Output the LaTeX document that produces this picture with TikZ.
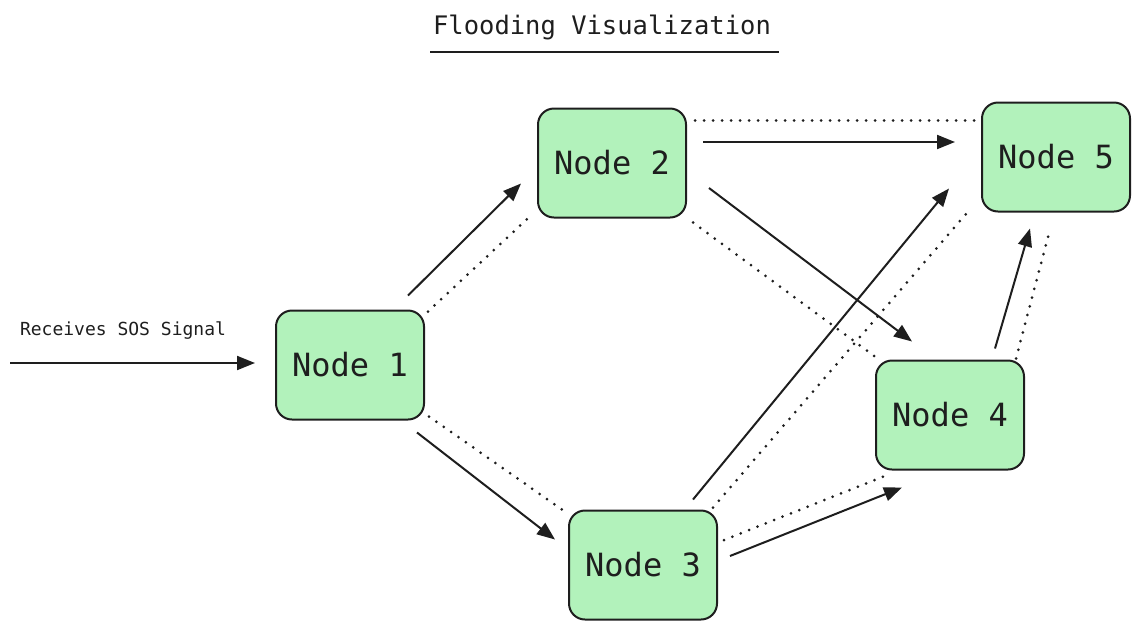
\documentclass[tikz,border=0pt]{standalone}
\usepackage{fontspec}
\setmonofont{DejaVu Sans Mono}
\usepackage{tikz}
\usetikzlibrary{positioning,calc,arrows.meta}
\definecolor{nodefill}{HTML}{B2F2BB}
\definecolor{ink}{HTML}{1E1E1E}

\begin{document}
\begin{tikzpicture}[x=1pt, y=-1pt,
    router/.style={draw=ink, fill=nodefill, line width=2pt, rounded corners=16pt,
        minimum width=148pt, minimum height=109pt, text=ink,
        font=\ttfamily\fontsize{32}{36}\selectfont},
    link/.style={ink, line width=3pt, line cap=round, dash pattern=on 0pt off 9pt},
    msg/.style={ink, line width=2pt, -{Triangle[length=18pt,width=14pt]}}]
    \useasboundingbox (0,0) rectangle (1140,630);

    % Title
    \node [text=ink, font=\ttfamily\fontsize{25.5}{28}\selectfont] (title) at (602,27) {Flooding Visualization};
    \draw [ink, line width=2pt] (430,52) -- (779,52);

    % Nodes
    \node [router] (n1) at (350,365) {Node 1};
    \node [router] (n2) at (612,163) {Node 2};
    \node [router] (n3) at (643,565) {Node 3};
    \node [router] (n4) at (950,415) {Node 4};
    \node [router] (n5) at (1056,157) {Node 5};

    % Incoming signal
    \coordinate (src) at (10,363);
    \node [text=ink, font=\ttfamily\fontsize{18}{20}\selectfont] (sos) at (123,331) {Receives SOS Signal};
    \draw [msg] (src) -- ([shift={(-20,-2)}]n1.west);

    % Links (dotted)
    \draw [link] ([shift={(3,2)}]n1.north east) -- ([shift={(-5,-4)}]n2.south west);
    \draw [link] ([shift={(4,-4)}]n1.south east) -- ([shift={(1,5)}]n3.north west);
    \draw [link] ([shift={(8,13)}]n2.north east) -- ([shift={(-6,19)}]n5.north west);
    \draw [link] ([shift={(6,4)}]n2.south east) -- ([shift={(4,0)}]n4.north west);
    \draw [link] ([shift={(-5,-2)}]n3.north east) -- ([shift={(-12,-2)}]n5.south west);
    \draw [link] ([shift={(6,-25)}]n3.east) -- ([shift={(11,5)}]n4.south west);
    \draw [link] ([shift={(-9,-1)}]n4.north east) -- ([shift={(-6,17)}]n5.south);

    % Messages (solid)
    \draw [msg] ([shift={(-17,-14)}]n1.north east) -- ([shift={(-16,-35)}]n2.south west);
    \draw [msg] ([shift={(-8,12)}]n1.south east) -- ([shift={(-13,30)}]n3.north west);
    \draw [msg] ([shift={(16,-21)}]n2.east) -- ([shift={(-26,-15)}]n5.west);
    \draw [msg] ([shift={(22,25)}]n2.east) -- ([shift={(-38,-18)}]n4.north);
    \draw [msg] ([shift={(50,-10)}]n3.north) -- ([shift={(-32,-24)}]n5.south west);
    \draw [msg] ([shift={(12,-9)}]n3.east) -- ([shift={(27,17)}]n4.south west);
    \draw [msg] ([shift={(45,-11)}]n4.north) -- ([shift={(-26,16)}]n5.south);
\end{tikzpicture}
\end{document}
